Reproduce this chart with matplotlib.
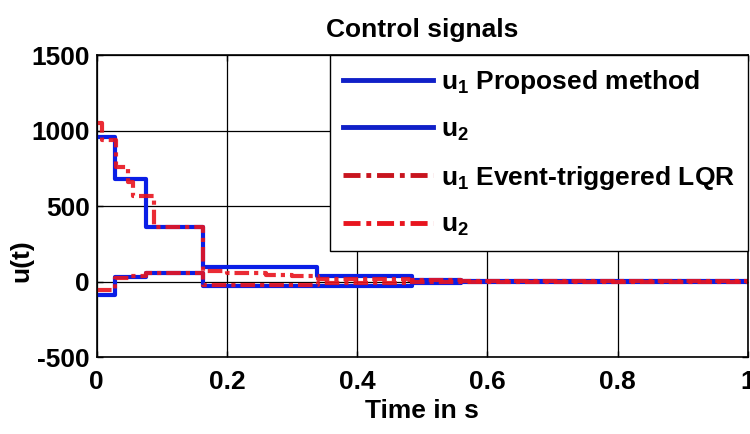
import numpy as np
import matplotlib.pyplot as plt
from matplotlib.lines import Line2D

# step times / values
t_u1_prop = [0, 0.028, 0.075, 0.163, 0.338, 0.485, 0.56, 1.0]
u1_prop = [960, 680, 360, 95, 35, 12, 4, 4]

t_u2_prop = [0, 0.028, 0.075, 0.163, 0.485, 0.56, 1.0]
u2_prop = [-85, 30, 55, -28, -8, 0, 0]

t_u1_lqr = [0, 0.008, 0.03, 0.048, 0.056, 0.088, 0.163, 0.2, 0.26, 0.3, 0.34, 0.48, 0.56, 1.0]
u1_lqr = [1050, 940, 760, 660, 570, 360, 70, 55, 45, 35, 20, 12, 4, 4]

t_u2_lqr = [0, 0.028, 0.05, 0.075, 0.163, 0.34, 0.48, 0.56, 1.0]
u2_lqr = [-55, 25, 40, 60, -20, -10, -4, 0, 0]

labels = [r'u$_1$ Proposed method', r'u$_2$', r'u$_1$ Event-triggered LQR', r'u$_2$']

plt.rcParams['font.family'] = ['Liberation Sans', 'DejaVu Sans']
plt.rcParams['mathtext.fontset'] = 'custom'
plt.rcParams['mathtext.rm'] = 'Liberation Sans:bold'
plt.rcParams['mathtext.it'] = 'Liberation Sans:bold'
plt.rcParams['mathtext.bf'] = 'Liberation Sans:bold'

fig = plt.figure(figsize=(7.5, 4.34), dpi=100)
ax = fig.add_axes([0.129, 0.177, 0.868, 0.696])

blue = '#0a1ee6'
red = '#e8141e'
dashdot = (0, (3.5, 1.2, 1, 1.2))

ax.step(t_u1_prop, u1_prop, where='post', color=blue, lw=3)
ax.step(t_u2_prop, u2_prop, where='post', color=blue, lw=3)
ax.step(t_u1_lqr, u1_lqr, where='post', color=red, lw=3, ls=dashdot, alpha=0.9)
ax.step(t_u2_lqr, u2_lqr, where='post', color=red, lw=3, ls=dashdot, alpha=0.9)

ax.set_xlim(0, 1)
ax.set_ylim(-500, 1500)
ax.set_xticks([0, 0.2, 0.4, 0.6, 0.8, 1])
ax.set_xticklabels(['0', '0.2', '0.4', '0.6', '0.8', '1'])
ax.set_yticks([-500, 0, 500, 1000, 1500])
ax.set_yticklabels(['-500', '0', '500', '1000', '1500'])
ax.grid(True, color='black', lw=0.9, ls='-')
ax.tick_params(direction='in', length=4, labelsize=19, top=True, right=True, width=1)
ax.tick_params(axis='x', pad=9)
ax.tick_params(axis='y', pad=5)
for lab in ax.get_xticklabels() + ax.get_yticklabels():
    lab.set_fontweight('bold')
for sp in ax.spines.values():
    sp.set_linewidth(1.2)

ax.set_title('Control signals', fontsize=19, fontweight='bold', pad=13)
ax.set_xlabel('Time in s', fontsize=19, fontweight='bold', labelpad=4)
ax.set_ylabel('u(t)', fontsize=19, fontweight='bold')
ax.yaxis.set_label_coords(-0.098, 0.32)

handles = [
    Line2D([], [], color='#1020c8', lw=3.5),
    Line2D([], [], color='#1020c8', lw=3.5),
    Line2D([], [], color='#c8141e', lw=3.5, ls=dashdot),
    Line2D([], [], color=red, lw=3.5, ls=dashdot),
]
leg = ax.legend(handles, labels, loc='upper right', frameon=True,
                prop={'size': 19, 'weight': 'bold'},
                fancybox=False, edgecolor='black', framealpha=1,
                handlelength=3.4, handletextpad=0.3, labelspacing=0.8,
                borderaxespad=0.0, borderpad=0.5)
leg.get_frame().set_linewidth(1.0)
leg.set_zorder(5)

fig.savefig('out.png', dpi=100)
